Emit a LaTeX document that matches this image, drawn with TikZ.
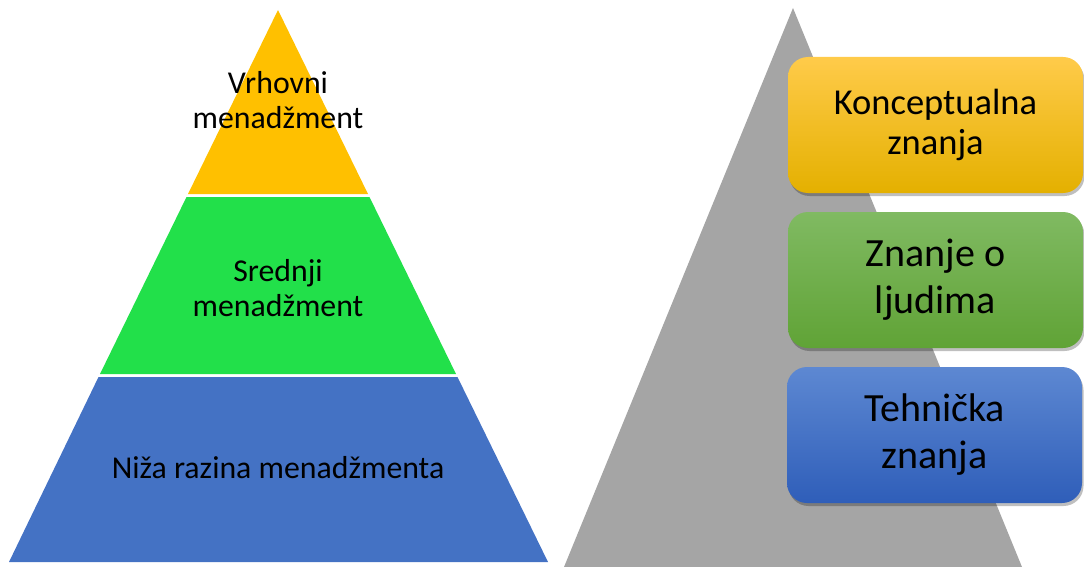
\documentclass[tikz,border=0pt]{standalone}
\usepackage{fontspec}
\setmainfont{Carlito}
\usetikzlibrary{shadows}
\definecolor{pyY}{HTML}{FFC000}
\definecolor{pyG}{HTML}{22E04A}
\definecolor{pyB}{HTML}{4472C4}
\definecolor{grayT}{HTML}{A5A5A5}
\definecolor{kYt}{HTML}{FFCB4A}
\definecolor{kYm}{HTML}{FFC000}
\definecolor{kYb}{HTML}{E4B000}
\definecolor{kGt}{HTML}{80BA62}
\definecolor{kGm}{HTML}{6CAD45}
\definecolor{kGb}{HTML}{60A336}
\definecolor{kBt}{HTML}{5D88D2}
\definecolor{kBm}{HTML}{4472C4}
\definecolor{kBb}{HTML}{2F5EB9}
\begin{document}
\begin{tikzpicture}[x=1pt,y=-1pt,
  layertext/.style={font=\fontsize{31.8}{34.5}\selectfont, align=center, text=black, inner sep=0pt},
  boxtext/.style={font=\fontsize{40}{47}\selectfont, align=center, text=black, inner sep=0pt},
  knowbox/.style={rectangle, rounded corners=20pt, minimum width=295pt, minimum height=136pt, draw=none,
    drop shadow={shadow xshift=1.5pt, shadow yshift=-3pt, opacity=0.25, fill=black}}]
\useasboundingbox (0,0) rectangle (1084,567);
% left pyramid
\fill[pyY] (278,10) -- (368,194) -- (188,194) -- cycle;
\fill[pyG] (186.5,197) -- (369.5,197) -- (456,374) -- (100,374) -- cycle;
\fill[pyB] (98.5,377) -- (457.5,377) -- (548,562) -- (9,562) -- cycle;
\node[layertext] (top) at (278,100) {Vrhovni\\menadžment};
\node[layertext] (mid) at (278,288) {Srednji\\menadžment};
\node[layertext] (low) at (278,468) {Niža razina menadžmenta};
% right triangle
\fill[grayT] (793,8) -- (1022,567) -- (564,567) -- cycle;
\node[knowbox, top color=kYt, middle color=kYm, bottom color=kYb] (k1) at (935.5,125) {};
\node[knowbox, top color=kGt, middle color=kGm, bottom color=kGb] (k2) at (935.5,280) {};
\node[knowbox, top color=kBt, middle color=kBm, bottom color=kBb] (k3) at (934.5,435) {};
\node[boxtext, font=\fontsize{36.5}{40}\selectfont] (t1) at (k1.center) {Konceptualna\\znanja};
\node[boxtext] (t2) at (k2.center) {Znanje o\\ljudima};
\node[boxtext] (t3) at (k3.center) {Tehnička\\znanja};
\end{tikzpicture}
\end{document}
